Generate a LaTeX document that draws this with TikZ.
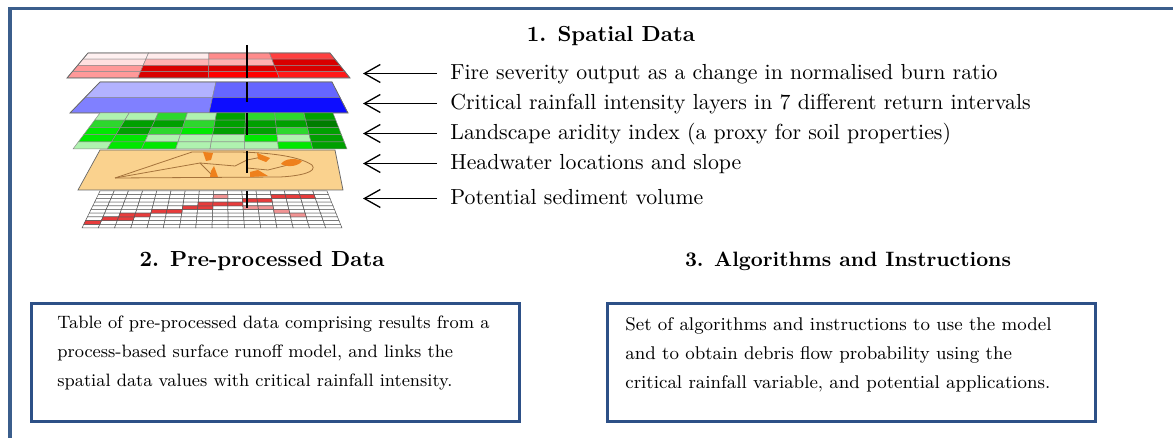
\documentclass[tikz,border=0pt]{standalone}
\usepackage{fontspec}
\usetikzlibrary{positioning,calc,arrows.meta}

\definecolor{framecol}{RGB}{59,94,140}
\definecolor{boxcol}{RGB}{45,80,135}
\definecolor{palegreen}{RGB}{175,242,175}
\definecolor{midgreen}{RGB}{45,215,45}
\definecolor{brightgreen}{RGB}{0,232,0}
\definecolor{darkgreen}{RGB}{0,160,0}
\definecolor{deepgreen}{RGB}{0,125,0}
\definecolor{soilorange}{RGB}{250,210,142}
\definecolor{blobzone}{RGB}{238,128,28}
\definecolor{divide}{RGB}{165,115,60}
\definecolor{streamred}{RGB}{232,60,60}

% layer geometry: top y, top left x, top right x, bottom y, bottom left x, bottom right x
\newcommand{\setlayer}[6]{\def\Lyt{#1}\def\Ltl{#2}\def\Ltr{#3}\def\Lyb{#4}\def\Lbl{#5}\def\Lbr{#6}}
\tikzset{cs/across/.store in=\lu, cs/down/.store in=\lv}
\tikzdeclarecoordinatesystem{layer}{%
  \tikzset{cs/.cd,#1}%
  \pgfmathsetmacro\lxl{\Ltl+(\lv)*(\Lbl-\Ltl)}%
  \pgfmathsetmacro\lxr{\Ltr+(\lv)*(\Lbr-\Ltr)}%
  \pgfmathsetmacro\lx{\lxl+(\lu)*(\lxr-\lxl)}%
  \pgfmathsetmacro\ly{\Lyt+(\lv)*(\Lyb-\Lyt)}%
  \pgfpointxy{\lx}{\ly}%
}
% one cell of a layer: col, row, cols, rows, colour
\newcommand{\lcell}[5]{%
  \filldraw[cellline, fill=#5]
    (layer cs:across={#1/#3},down={#2/#4}) -- (layer cs:across={(#1+1)/#3},down={#2/#4})
    -- (layer cs:across={(#1+1)/#3},down={(#2+1)/#4}) -- (layer cs:across={#1/#3},down={(#2+1)/#4}) -- cycle;}
% whole layer from colour rows, top row first
\newcommand{\layercells}[3]{%
  \foreach \crow [count=\j from 0] in {#3}{
    \foreach \ccol [count=\i from 0] in \crow{\lcell{\i}{\j}{#1}{#2}{\ccol}}}}
\newcommand{\layeredge}{%
  \draw[layerline] (layer cs:across=0,down=0) -- (layer cs:across=1,down=0)
    -- (layer cs:across=1,down=1) -- (layer cs:across=0,down=1) -- cycle;}

\tikzset{
  figtitle/.style={font=\fontsize{10.9}{13}\selectfont\bfseries, anchor=base, inner sep=0pt},
  figlabel/.style={font=\fontsize{10.9}{13}\selectfont, anchor=west, inner xsep=6.5pt, inner ysep=0pt,
    text height=.7em, text depth=.06em},
  figarrow/.style={-{Straight Barb[length=8pt,width=9pt]}, line width=0.65pt},
  figbox/.style={draw=boxcol, line width=1.5pt, minimum width=244pt, minimum height=59pt,
    anchor=north west, inner sep=0pt},
  figtext/.style={font=\fontsize{9.2}{14.5}\selectfont, align=left, anchor=north west, inner sep=0pt},
  cellline/.style={draw=black!45, line width=0.25pt},
  layerline/.style={draw=black!60, line width=0.35pt},
  pin/.style={line width=0.6pt},
}

\begin{document}
\begin{tikzpicture}[x=0.5pt, y=-0.5pt]
  \useasboundingbox (0,0) rectangle (1173,438);

  % outer frame, open to the right and below
  \draw[framecol, line width=1.75pt] (10,445) |- (1180,8.5);

  % --- layer stack ---
  % burn ratio
  \setlayer{53}{88}{330}{78}{67}{350}
  \layercells{4}{4}{{red!6,red!8,red!45,red!75},
    {red!12,red!30,red!30,red!85!black},
    {red!40,red!85!black,red!85!black,red!85!black},
    {red!40,red!85!black,red,red!90}}
  \layeredge
  \draw[pin] (247,45) -- (247,78);

  % rainfall intensity
  \setlayer{82}{100}{332}{113}{70}{348}
  \layercells{2}{2}{{blue!30,blue!60},{blue!50,blue!95}}
  \layeredge
  \draw[pin] (247,82) -- (247,102);

  % aridity
  \setlayer{113}{100}{333}{149}{73}{347}
  \layercells{8}{5}{{palegreen,palegreen,midgreen,palegreen,darkgreen,midgreen,midgreen,darkgreen},
    {midgreen,darkgreen,darkgreen,midgreen,darkgreen,darkgreen,darkgreen,deepgreen},
    {brightgreen,darkgreen,midgreen,brightgreen,darkgreen,darkgreen,midgreen,darkgreen},
    {brightgreen,brightgreen,palegreen,palegreen,palegreen,brightgreen,palegreen,darkgreen},
    {palegreen,brightgreen,brightgreen,palegreen,palegreen,palegreen,brightgreen,darkgreen}}
  \draw[pin] (247,113) -- (247,135);

  % headwaters and slope
  \setlayer{150}{100}{335}{190}{78}{343}
  \fill[soilorange] (layer cs:across=0,down=0) -- (layer cs:across=1,down=0)
    -- (layer cs:across=1,down=1) -- (layer cs:across=0,down=1) -- cycle;
  \layeredge
  \draw[divide, line width=0.4pt] (115,178) -- (192,152) -- (240,152)
    .. controls (275,153) and (300,157) .. (312,165)
    .. controls (318,172) and (300,176) .. (280,177) -- (115,178);
  \draw[divide, line width=0.4pt] (115,178) -- (200,163) -- (235,166) -- (247,160) -- (262,157);
  \draw[divide, line width=0.4pt] (200,163) -- (213,176);
  \draw[divide, line width=0.4pt] (247,160) -- (247,168) -- (268,170) -- (292,164);
  \fill[blobzone] (203,152) -- (213,153) -- (211,160) -- (206,161) -- cycle;
  \fill[blobzone] (257,153) -- (270,158) -- (266,162) -- (258,159) -- cycle;
  \fill[blobzone] (281,164) .. controls (285,158) and (296,158) .. (302,161)
    .. controls (299,166) and (288,168) .. (281,164);
  \fill[blobzone] (211,171) -- (214,166) -- (218,177) -- (210,177) -- cycle;
  \fill[blobzone] (250,172) -- (258,170) -- (268,176) -- (250,177) -- cycle;
  \draw[pin] (247,151) -- (247,173);

  % sediment volume grid
  \begin{scope}[cellline/.append style={draw=black!65}]
  \setlayer{191}{100}{327}{228}{82}{342}
  \foreach \r in {0,...,9}{\foreach \c in {0,...,15}{\lcell{\c}{\r}{16}{10}{white}}}
  \foreach \c/\r in {0/8,1/7,2/7,2/6,3/6,4/5,5/5,6/4,7/4,7/3,8/3,9/3,10/2,11/2,12/1,13/1,14/1}
    {\lcell{\c}{\r}{16}{10}{streamred}}
  \foreach \c/\r in {8/1,10/4,11/4,12/5,13/6}
    {\lcell{\c}{\r}{16}{10}{streamred!55}}
  \end{scope}
  \draw[pin] (247,191) -- (247,208);

  % --- 1. spatial data ---
  \node[figtitle] (spatial) at (611,42) {1. Spatial Data};

  \coordinate (sevtip) at (363,73.5);
  \coordinate (raintip) at (363,103.5);
  \coordinate (aridtip) at (363,133.5);
  \coordinate (headtip) at (363,163.5);
  \coordinate (sedtip) at (363,198.5);

  \node[figlabel] (sev) at (437,73.5) {Fire severity output as a change in normalised burn ratio};
  \node[figlabel] (rain) at (437,103.5) {Critical rainfall intensity layers in 7 different return intervals};
  \node[figlabel] (arid) at (437,133.5) {Landscape aridity index (a proxy for soil properties)};
  \node[figlabel] (head) at (437,163.5) {Headwater locations and slope};
  \node[figlabel] (sed) at (437,198.5) {Potential sediment volume};

  \draw[figarrow] (sev.west) -- (sevtip);
  \draw[figarrow] (rain.west) -- (raintip);
  \draw[figarrow] (arid.west) -- (aridtip);
  \draw[figarrow] (head.west) -- (headtip);
  \draw[figarrow] (sed.west) -- (sedtip);

  % --- 2. and 3. ---
  \node[figtitle] (pretitle) at (262,267) {2. Pre-processed Data};
  \node[figtitle, font=\fontsize{10.4}{13}\selectfont\bfseries] (algtitle) at (848,267) {3. Algorithms and Instructions};

  \node[figbox] (prebox) at (30,302) {};
  \node[figbox] (algbox) at (606,302) {};

  \node[figtext, font=\fontsize{8.95}{14.5}\selectfont] (pretext) at (57,315) {Table of pre-processed data comprising results from a\\
    process-based surface runoff model, and links the\\
    spatial data values with critical rainfall intensity.};
  \node[figtext] (algtext) at (625,317) {Set of algorithms and instructions to use the model\\
    and to obtain debris flow probability using the\\
    critical rainfall variable, and potential applications.};
\end{tikzpicture}
\end{document}
